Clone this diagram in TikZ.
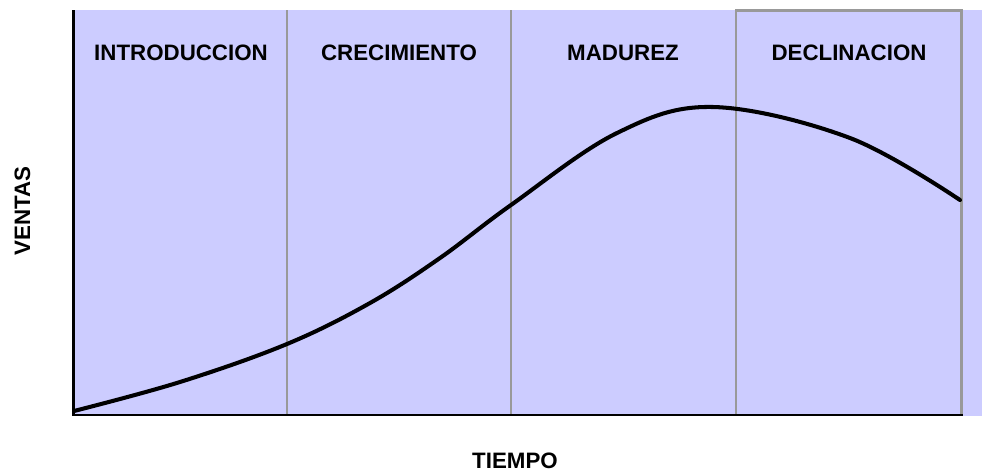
\documentclass[tikz,border=0pt]{standalone}
\usepackage{fontspec}
\setmainfont{Liberation Sans}
\definecolor{fondo}{HTML}{CCCCFF}
\definecolor{gris}{HTML}{999999}

\begin{document}
\begin{tikzpicture}[scale=0.2]
\tikzstyle{every node}+=[inner sep=0pt, font=\fontsize{12.7}{15}\selectfont\bfseries]
\tikzstyle{divisor}=[gris, line width=1.7pt]
\tikzstyle{eje}=[black, line width=1.5pt]
\useasboundingbox (0,0) rectangle (98.2,-47.2);
\fill [fondo] (7.35,-1.0) rectangle (98.2,-41.6);
\draw [divisor] (28.7,-1.0) -- (28.7,-41.4);
\draw [divisor] (51.1,-1.0) -- (51.1,-41.4);
\draw [divisor] (96.15,-41.4) -- (96.15,-1.0) -- (73.6,-1.0) -- (73.6,-41.4);
\draw [eje] (7.35,-1.0) -- (7.35,-41.5) -- (96.3,-41.5);
\draw [black, line width=2.3pt, line cap=round] plot [smooth, tension=0.6] coordinates {(7.4,-41.1) (18.0,-38.2) (28.7,-34.4) (37.0,-30.3) (44.0,-25.8) (51.1,-20.5) (61.7,-13.3) (71.3,-10.7) (85.0,-13.8) (96.0,-20.0)};
\draw (18.1,-5.3) node (introduccion) {INTRODUCCION};
\draw (39.9,-5.3) node (crecimiento) {CRECIMIENTO};
\draw (62.3,-5.3) node (madurez) {MADUREZ};
\draw (84.9,-5.3) node (declinacion) {DECLINACION};
\draw (2.25,-21.1) node [rotate=90] (ventas) {VENTAS};
\draw (51.5,-46.1) node (tiempo) {TIEMPO};
\end{tikzpicture}
\end{document}
